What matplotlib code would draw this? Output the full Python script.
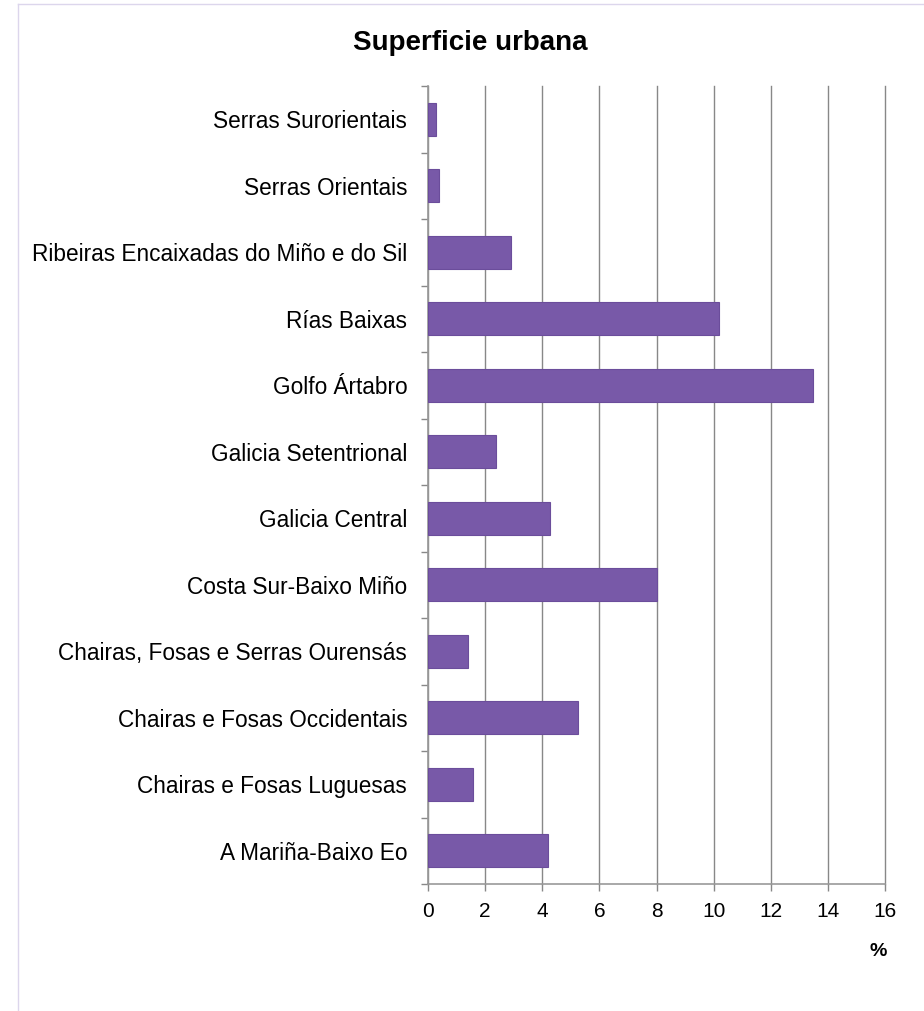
#!/usr/bin/env python3
import matplotlib
matplotlib.use('Agg')
import matplotlib.pyplot as plt
from matplotlib.lines import Line2D

plt.rcParams['font.family'] = ['Liberation Sans', 'DejaVu Sans']

categories = [
	'A Mariña-Baixo Eo',
	'Chairas e Fosas Luguesas',
	'Chairas e Fosas Occidentais',
	'Chairas, Fosas e Serras Ourensás',
	'Costa Sur-Baixo Miño',
	'Galicia Central',
	'Galicia Setentrional',
	'Golfo Ártabro',
	'Rías Baixas',
	'Ribeiras Encaixadas do Miño e do Sil',
	'Serras Orientais',
	'Serras Surorientais',
]
values = [4.2, 1.58, 5.25, 1.4, 8.02, 4.27, 2.38, 13.48, 10.2, 2.9, 0.38, 0.28]
xticks = [0, 2, 4, 6, 8, 10, 12, 14, 16]

fig = plt.figure(figsize=(9.24, 10.11), dpi=100)
axis = fig.add_axes([0.4632, 0.1256, 0.4946, 0.7893])

pos = list(range(len(categories)))
axis.barh(pos, values, height=0.5, color='#7859a8', edgecolor='#6b4d9b', linewidth=0.8, zorder=3)

axis.set_xlim(0, 16)
axis.set_ylim(-0.5, len(categories) - 0.5)
axis.set_xticks(xticks)
axis.set_xticklabels([str(t) for t in xticks], fontsize=15)
axis.set_yticks(pos)
axis.set_yticklabels(categories, fontsize=16.3)
axis.set_yticks([p - 0.5 for p in pos] + [len(categories) - 0.5], minor=True)
axis.tick_params(axis='y', which='major', length=0, pad=15)
axis.tick_params(axis='y', which='minor', length=5, color='#888888', width=1)
axis.tick_params(axis='x', length=5, color='#888888', width=1, pad=8)

axis.grid(axis='x', color='#888888', linewidth=1, zorder=0)
for line in axis.get_xgridlines():
	line.set_clip_on(False)
for side in ['top', 'right']:
	axis.spines[side].set_visible(False)
for side in ['left', 'bottom']:
	axis.spines[side].set_color('#999999')
	axis.spines[side].set_linewidth(1.2)

fig.text(470 / 924, 1 - 43 / 1011, 'Superficie urbana', fontsize=20, fontweight='bold',
	ha='center', va='center')
fig.text(878 / 924, 1 - 952 / 1011, '%', fontsize=14, fontweight='bold', ha='center', va='center')

# faint frame around the chart
fig.add_artist(Line2D([18 / 924, 18 / 924], [0, 1 - 4 / 1011], color='#dcd6ec', linewidth=1))
fig.add_artist(Line2D([18 / 924, 1], [1 - 4 / 1011, 1 - 4 / 1011], color='#dcd6ec', linewidth=1))

fig.savefig('out.png', dpi=100)
